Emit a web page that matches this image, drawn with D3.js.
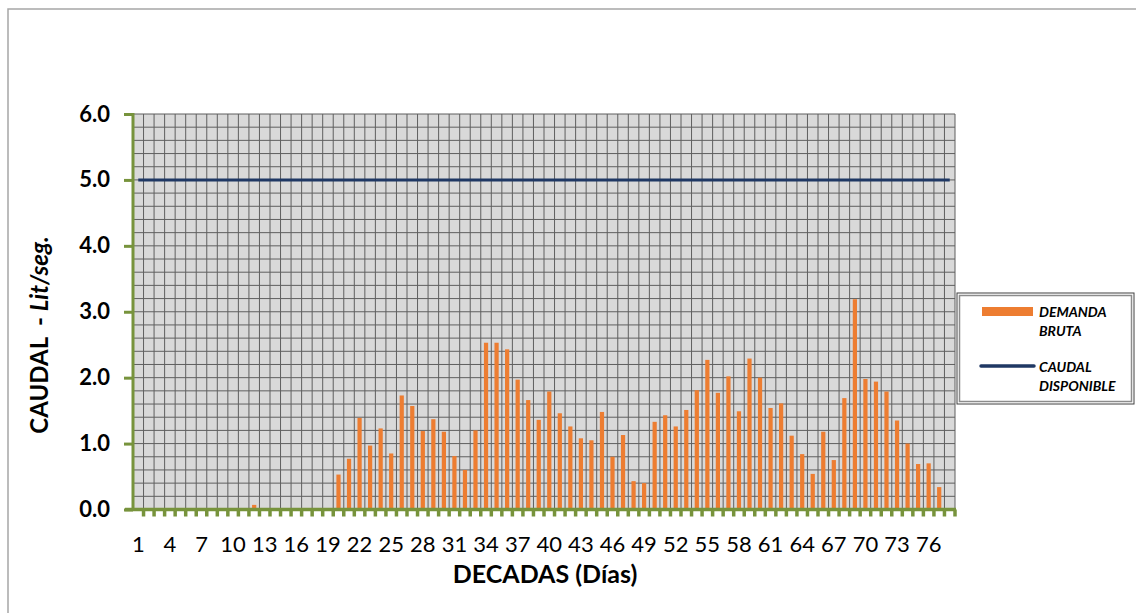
<!DOCTYPE html>
<html>
<head>
<meta charset="utf-8">
<script src="https://cdn.jsdelivr.net/npm/d3@7"></script>
<style>
  body { margin: 0; background: #fff; }
  svg { display: block; font-family: Lato, "Liberation Sans", sans-serif; }
</style>
</head>
<body>
<div id="chart"><svg width="1136" height="613"></svg></div>
<script>
// Data - decadas 1..78
let decadas = d3.range(1, 79);

// Demanda bruta (Lit/seg) per decada
let demanda = [
  0, 0, 0, 0, 0, 0, 0, 0, 0, 0,
  0, 0.07, 0, 0, 0, 0, 0, 0, 0, 0.53,
  0.77, 1.39, 0.97, 1.23, 0.85, 1.73, 1.57, 1.19, 1.37, 1.18,
  0.81, 0.60, 1.20, 2.53, 2.53, 2.43, 1.97, 1.66, 1.36, 1.79,
  1.46, 1.26, 1.08, 1.05, 1.48, 0.80, 1.13, 0.43, 0.40, 1.33,
  1.43, 1.26, 1.51, 1.81, 2.27, 1.77, 2.02, 1.49, 2.29, 2.00,
  1.54, 1.61, 1.12, 0.84, 0.54, 1.18, 0.75, 1.69, 3.19, 1.98,
  1.94, 1.79, 1.35, 1.00, 0.69, 0.70, 0.34, 0
];

// Caudal disponible (Lit/seg) per decada
let caudal = [
  5, 5, 5, 5, 5, 5, 5, 5, 5, 5, 5, 5, 5, 5, 5, 5, 5, 5, 5, 5,
  5, 5, 5, 5, 5, 5, 5, 5, 5, 5, 5, 5, 5, 5, 5, 5, 5, 5, 5, 5,
  5, 5, 5, 5, 5, 5, 5, 5, 5, 5, 5, 5, 5, 5, 5, 5, 5, 5, 5, 5,
  5, 5, 5, 5, 5, 5, 5, 5, 5, 5, 5, 5, 5, 5, 5, 5, 5, 5
];

// Axis ticks
let yTicks = [0, 1, 2, 3, 4, 5, 6];
let yGrid = d3.range(0, 31).map(i => i / 5);
let xTickLabels = decadas.filter((d, i) => i % 3 === 0);

// Colors
let colors = {
  "demanda": "#ED7D31",
  "caudal": "#1F3864",
  "axis": "#77933C",
  "plot": "#D9D9D9",
  "grid": "#5F5F5F",
  "text": "#000000",
  "frame": "#A6A6A6"
};

let svg = d3.select("div#chart svg");

let plot = { left: 133, right: 955, top: 114, bottom: 509.5 };

// Scales
let x = d3.scaleBand()
  .domain(decadas)
  .range([plot.left, plot.right])
  .paddingInner(0.6)
  .paddingOuter(0.3);
let xEdge = d3.scaleLinear()
  .domain([0, decadas.length])
  .range([plot.left, plot.right]);
let y = d3.scaleLinear()
  .domain([0, 6])
  .range([plot.bottom, plot.top]);

// Chart frame
svg.append("rect")
  .attr("x", 8)
  .attr("y", 9)
  .attr("width", 1140)
  .attr("height", 620)
  .attr("fill", "#fff")
  .attr("stroke", colors.frame)
  .attr("stroke-width", 1.5);

// Plot background
svg.append("rect")
  .attr("x", plot.left)
  .attr("y", plot.top)
  .attr("width", plot.right - plot.left)
  .attr("height", plot.bottom - plot.top)
  .attr("fill", colors.plot);

// Grid lines
let grid = svg.append("g").attr("class", "grid");
grid.selectAll("line.h")
  .data(yGrid)
  .enter()
  .append("line")
  .attr("class", "h")
  .attr("x1", plot.left)
  .attr("x2", plot.right)
  .attr("y1", d => y(d))
  .attr("y2", d => y(d))
  .attr("stroke", colors.grid)
  .attr("stroke-width", 1);
grid.selectAll("line.v")
  .data(d3.range(0, decadas.length + 1))
  .enter()
  .append("line")
  .attr("class", "v")
  .attr("x1", d => xEdge(d))
  .attr("x2", d => xEdge(d))
  .attr("y1", plot.top)
  .attr("y2", plot.bottom)
  .attr("stroke", colors.grid)
  .attr("stroke-width", 1);

// Bars - demanda bruta
svg.append("g")
  .attr("class", "bars")
  .selectAll("rect")
  .data(decadas)
  .enter()
  .append("rect")
  .attr("x", d => x(d))
  .attr("y", (d, i) => y(demanda[i]))
  .attr("width", x.bandwidth())
  .attr("height", (d, i) => y(0) - y(demanda[i]))
  .attr("fill", colors.demanda);

// Line - caudal disponible
let line = d3.line()
  .x(d => x(d) + x.bandwidth() / 2)
  .y((d, i) => y(caudal[i]));
svg.append("path")
  .datum(decadas)
  .attr("d", line)
  .attr("fill", "none")
  .attr("stroke", colors.caudal)
  .attr("stroke-width", 3);

// Y axis
let yAxis = svg.append("g")
  .attr("class", "axis axis_y")
  .attr("transform", "translate(" + plot.left + ",0)")
  .call(d3.axisLeft(y).tickValues(yTicks).tickFormat(d3.format(".1f")).tickSize(9).tickPadding(14));
yAxis.select(".domain").remove();
yAxis.selectAll(".tick line")
  .attr("stroke", colors.axis)
  .attr("stroke-width", 3);
yAxis.selectAll(".tick text")
  .attr("fill", colors.text)
  .style("font-family", "Lato, 'Liberation Sans', sans-serif")
  .style("font-size", "22px")
  .style("font-weight", "bold");
yAxis.append("line")
  .attr("x1", 0)
  .attr("x2", 0)
  .attr("y1", plot.top - 1)
  .attr("y2", plot.bottom)
  .attr("stroke", colors.axis)
  .attr("stroke-width", 3);

// X axis
let xAxis = svg.append("g")
  .attr("class", "axis axis_x")
  .attr("transform", "translate(0," + plot.bottom + ")")
  .call(d3.axisBottom(x).tickValues(xTickLabels).tickSize(0).tickPadding(27));
xAxis.select(".domain").remove();
xAxis.selectAll(".tick text")
  .attr("fill", colors.text)
  .style("font-family", "Lato, 'Liberation Sans', sans-serif")
  .style("font-size", "22px");

// Category tick marks (between categories)
xAxis.selectAll("line.cat")
  .data(d3.range(1, decadas.length + 1))
  .enter()
  .append("line")
  .attr("class", "cat")
  .attr("x1", d => xEdge(d))
  .attr("x2", d => xEdge(d))
  .attr("y1", 0)
  .attr("y2", 7)
  .attr("stroke", colors.axis)
  .attr("stroke-width", 3.5);
xAxis.append("line")
  .attr("x1", plot.left - 8)
  .attr("x2", plot.right + 1)
  .attr("y1", 0)
  .attr("y2", 0)
  .attr("stroke", colors.axis)
  .attr("stroke-width", 3.5);

// Axis titles
svg.append("text")
  .attr("x", 545)
  .attr("y", 583)
  .style("font-size", "25px")
  .style("font-weight", "bold")
  .style("text-anchor", "middle")
  .text("DECADAS (Días)");

let yTitle = svg.append("text")
  .attr("transform", "translate(48,335) rotate(-90)")
  .style("font-size", "24px")
  .style("font-weight", "bold")
  .style("text-anchor", "middle")
  .style("white-space", "pre");
yTitle.append("tspan").text("CAUDAL  - ");
yTitle.append("tspan").style("font-style", "italic").text("Lit/seg.");

// Legend
let legend = svg.append("g").attr("class", "legend");
legend.append("rect")
  .attr("x", 957)
  .attr("y", 293)
  .attr("width", 177)
  .attr("height", 111)
  .attr("fill", "#fff")
  .attr("stroke", "#404040")
  .attr("stroke-width", 1);
legend.append("rect")
  .attr("x", 959.5)
  .attr("y", 295.5)
  .attr("width", 172)
  .attr("height", 106)
  .attr("fill", "none")
  .attr("stroke", "#8C8C8C")
  .attr("stroke-width", 1.5);

legend.append("rect")
  .attr("x", 982)
  .attr("y", 307)
  .attr("width", 51)
  .attr("height", 9)
  .attr("fill", colors.demanda);
legend.append("line")
  .attr("x1", 981)
  .attr("x2", 1034)
  .attr("y1", 366)
  .attr("y2", 366)
  .attr("stroke", colors.caudal)
  .attr("stroke-width", 3.5)
  .attr("stroke-linecap", "round");

let legend_text = [
  { "text": "DEMANDA", "y": 317 },
  { "text": "BRUTA", "y": 336 },
  { "text": "CAUDAL", "y": 372 },
  { "text": "DISPONIBLE", "y": 391 }
];
legend.selectAll("text")
  .data(legend_text)
  .enter()
  .append("text")
  .attr("x", 1039)
  .attr("y", d => d.y)
  .text(d => d.text)
  .style("font-size", "14px")
  .style("font-weight", "bold")
  .style("font-style", "italic");
</script>
</body>
</html>
